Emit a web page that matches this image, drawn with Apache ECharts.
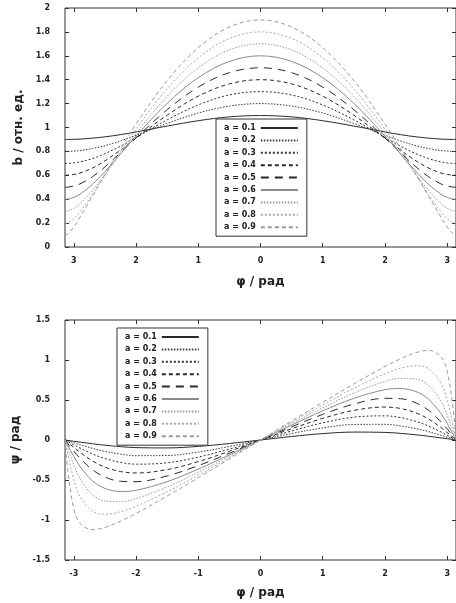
<!DOCTYPE html>
<html>
<head>
<meta charset="utf-8">
<script src="https://cdn.jsdelivr.net/npm/echarts@6/dist/echarts.min.js"></script>
<style>
html,body{margin:0;padding:0;background:#fff;}
#c{width:456px;height:603px;}
</style>
</head>
<body>
<div id="c"></div>
<script>
// φ sample points (rad)
var phi = [-3.1416, -3.1, -3.0, -2.9, -2.7, -2.5, -2.25, -2, -1.5, -1, -0.5, 0, 0.5, 1, 1.5, 2, 2.25, 2.5, 2.7, 2.9, 3.0, 3.1, 3.1416];
var seriesNames = ['a = 0.1','a = 0.2','a = 0.3','a = 0.4','a = 0.5','a = 0.6','a = 0.7','a = 0.8','a = 0.9'];
var xTicks = [-3, -2, -1, 0, 1, 2, 3];

// top panel: b / отн. ед.
var b01 = [0.900,0.900,0.901,0.903,0.911,0.922,0.940,0.963,1.012,1.057,1.089,1.100,1.089,1.057,1.012,0.963,0.940,0.922,0.911,0.903,0.901,0.900,0.900];
var b02 = [0.800,0.800,0.803,0.807,0.824,0.848,0.888,0.935,1.034,1.121,1.179,1.200,1.179,1.121,1.034,0.935,0.888,0.848,0.824,0.807,0.803,0.800,0.800];
var b03 = [0.700,0.700,0.704,0.712,0.740,0.781,0.844,0.917,1.064,1.189,1.272,1.300,1.272,1.189,1.064,0.917,0.844,0.781,0.740,0.712,0.704,0.700,0.700];
var b04 = [0.600,0.601,0.607,0.619,0.661,0.721,0.811,0.910,1.103,1.262,1.365,1.400,1.365,1.262,1.103,0.910,0.811,0.721,0.661,0.619,0.607,0.601,0.600];
var b05 = [0.500,0.501,0.510,0.528,0.588,0.670,0.789,0.913,1.149,1.338,1.459,1.500,1.459,1.338,1.149,0.913,0.789,0.670,0.588,0.528,0.510,0.501,0.500];
var b06 = [0.400,0.401,0.415,0.442,0.525,0.631,0.779,0.928,1.202,1.417,1.553,1.600,1.553,1.417,1.202,0.928,0.779,0.631,0.525,0.442,0.415,0.401,0.400];
var b07 = [0.300,0.302,0.323,0.362,0.474,0.607,0.781,0.953,1.261,1.499,1.649,1.700,1.649,1.499,1.261,0.953,0.781,0.607,0.474,0.362,0.323,0.302,0.300];
var b08 = [0.200,0.203,0.237,0.294,0.440,0.599,0.797,0.987,1.324,1.583,1.745,1.800,1.745,1.583,1.324,0.987,0.797,0.599,0.440,0.294,0.237,0.203,0.200];
var b09 = [0.100,0.108,0.167,0.250,0.427,0.607,0.824,1.030,1.392,1.668,1.841,1.900,1.841,1.668,1.392,1.030,0.824,0.607,0.427,0.250,0.167,0.108,0.100];

// bottom panel: ψ / рад
var p01 = [0,-0.005,-0.016,-0.026,-0.047,-0.065,-0.083,-0.095,-0.099,-0.080,-0.044,0,0.044,0.080,0.099,0.095,0.083,0.065,0.047,0.026,0.016,0.005,0];
var p02 = [0,-0.010,-0.035,-0.059,-0.104,-0.142,-0.176,-0.196,-0.194,-0.151,-0.081,0,0.081,0.151,0.194,0.196,0.176,0.142,0.104,0.059,0.035,0.010,0];
var p03 = [0,-0.018,-0.060,-0.101,-0.174,-0.232,-0.280,-0.302,-0.285,-0.214,-0.113,0,0.113,0.214,0.285,0.302,0.280,0.232,0.174,0.101,0.060,0.018,0];
var p04 = [0,-0.028,-0.093,-0.155,-0.262,-0.339,-0.394,-0.412,-0.370,-0.270,-0.141,0,0.141,0.270,0.370,0.412,0.394,0.339,0.262,0.155,0.093,0.028,0];
var p05 = [0,-0.042,-0.139,-0.228,-0.372,-0.463,-0.516,-0.521,-0.449,-0.320,-0.165,0,0.165,0.320,0.449,0.521,0.516,0.463,0.372,0.228,0.139,0.042,0];
var p06 = [0,-0.062,-0.206,-0.331,-0.511,-0.605,-0.643,-0.629,-0.521,-0.364,-0.186,0,0.186,0.364,0.521,0.629,0.643,0.605,0.511,0.331,0.206,0.062,0];
var p07 = [0,-0.097,-0.311,-0.482,-0.684,-0.762,-0.771,-0.732,-0.587,-0.403,-0.205,0,0.205,0.403,0.587,0.732,0.771,0.762,0.684,0.482,0.311,0.097,0];
var p08 = [0,-0.164,-0.497,-0.709,-0.891,-0.927,-0.897,-0.829,-0.647,-0.440,-0.222,0,0.222,0.440,0.647,0.829,0.897,0.927,0.891,0.709,0.497,0.164,0];
var p09 = [0,-0.356,-0.862,-1.041,-1.120,-1.093,-1.015,-0.918,-0.701,-0.471,-0.237,0,0.237,0.471,0.701,0.918,1.015,1.093,1.120,1.041,0.862,0.356,0];

var bSets = [b01,b02,b03,b04,b05,b06,b07,b08,b09];
var pSets = [p01,p02,p03,p04,p05,p06,p07,p08,p09];

var styles = [
  {color:'#2a2a2a', type:'solid'},
  {color:'#3a3a3a', type:[1.5,1.5]},
  {color:'#333333', type:[2,2]},
  {color:'#2a2a2a', type:[4,3]},
  {color:'#2a2a2a', type:[8,6]},
  {color:'#8a8a8a', type:'solid'},
  {color:'#9a9a9a', type:[1.5,1.5]},
  {color:'#a8a8a8', type:[2,2]},
  {color:'#9a9a9a', type:[4,3]}
];

var FONT = '"DejaVu Sans", Verdana, sans-serif';
var PI = 3.1416;

function pairs(xs, ys){ return xs.map(function(x,i){ return [x, ys[i]]; }); }

var series = [];
[bSets, pSets].forEach(function(sets, g){
  sets.forEach(function(vals, i){
    series.push({
      name: seriesNames[i],
      type: 'line',
      xAxisIndex: g*2, yAxisIndex: g*2,
      data: pairs(phi, vals),
      smooth: 0.35,
      symbol: 'none',
      showSymbol: false,
      lineStyle: {color: styles[i].color, type: styles[i].type, width: 1},
      itemStyle: {color: styles[i].color},
      animation: false,
      z: 2
    });
  });
});

function xMain(grid, absLabels, nameGap){
  return {
    type:'value', gridIndex:grid, min:-PI, max:PI,
    axisLine:{show:false, onZero:false},
    splitLine:{show:false},
    axisTick:{show:true, inside:true, length:4, customValues:xTicks, lineStyle:{color:'#333'}},
    axisLabel:{customValues:xTicks, margin:10, fontSize:8, fontWeight:'bold', color:'#222', fontFamily:FONT,
      formatter:function(v){ return absLabels ? String(Math.abs(v)) : String(v); }},
    name:'φ / рад', nameLocation:'middle', nameGap:nameGap,
    nameTextStyle:{fontSize:12, fontWeight:'bold', color:'#222', fontFamily:FONT}
  };
}
function xMirror(grid){
  return {
    type:'value', gridIndex:grid, position:'top', min:-PI, max:PI,
    axisLine:{show:false, onZero:false}, splitLine:{show:false},
    axisTick:{show:true, inside:true, length:4, customValues:xTicks, lineStyle:{color:'#333'}},
    axisLabel:{show:false}
  };
}
function yMain(grid, min, max, interval, name){
  return {
    type:'value', gridIndex:grid, min:min, max:max, interval:interval,
    axisLine:{show:false, onZero:false}, splitLine:{show:false},
    axisTick:{show:true, inside:true, length:4, lineStyle:{color:'#333'}},
    axisLabel:{margin:15, fontSize:8, fontWeight:'bold', color:'#222', fontFamily:FONT},
    name:name, nameLocation:'middle', nameGap:39, nameRotate:90,
    nameTextStyle:{fontSize:12, fontWeight:'bold', color:'#222', fontFamily:FONT}
  };
}
function yMirror(grid, min, max, interval){
  return {
    type:'value', gridIndex:grid, position:'right', min:min, max:max, interval:interval,
    axisLine:{show:false, onZero:false}, splitLine:{show:false},
    axisTick:{show:true, inside:true, length:4, lineStyle:{color:'#333'}},
    axisLabel:{show:false}
  };
}
function legend(left, top){
  return {
    orient:'vertical', left:left, top:top, align:'right',
    data:seriesNames,
    itemWidth:37, itemHeight:10, itemGap:2.4,
    padding:[4,8,4,8],
    backgroundColor:'#fff', borderColor:'#333', borderWidth:1, borderRadius:0,
    itemStyle:{opacity:0, borderWidth:0},
    textStyle:{fontSize:8, fontWeight:'bold', color:'#222', fontFamily:FONT, lineHeight:10},
    selectedMode:false, z:10
  };
}

var option = {
  animation:false,
  backgroundColor:'#fff',
  grid:[
    {left:65, top:8, width:394, height:239, show:true, borderColor:'#333', borderWidth:1, backgroundColor:'transparent'},
    {left:65, top:320, width:394, height:240, show:true, borderColor:'#333', borderWidth:1, backgroundColor:'transparent'}
  ],
  xAxis:[ xMain(0, true, 29), xMirror(0), xMain(1, false, 27), xMirror(1) ],
  yAxis:[ yMain(0, 0, 2, 0.2, 'b / отн. ед.'), yMirror(0, 0, 2, 0.2),
          yMain(1, -1.5, 1.5, 0.5, 'ψ / рад'), yMirror(1, -1.5, 1.5, 0.5) ],
  legend:[ legend(216, 119), legend(117, 328) ],
  series:series
};

var chart = echarts.init(document.getElementById('c'), null, {renderer:'canvas'});
chart.setOption(option);
</script>
</body>
</html>
